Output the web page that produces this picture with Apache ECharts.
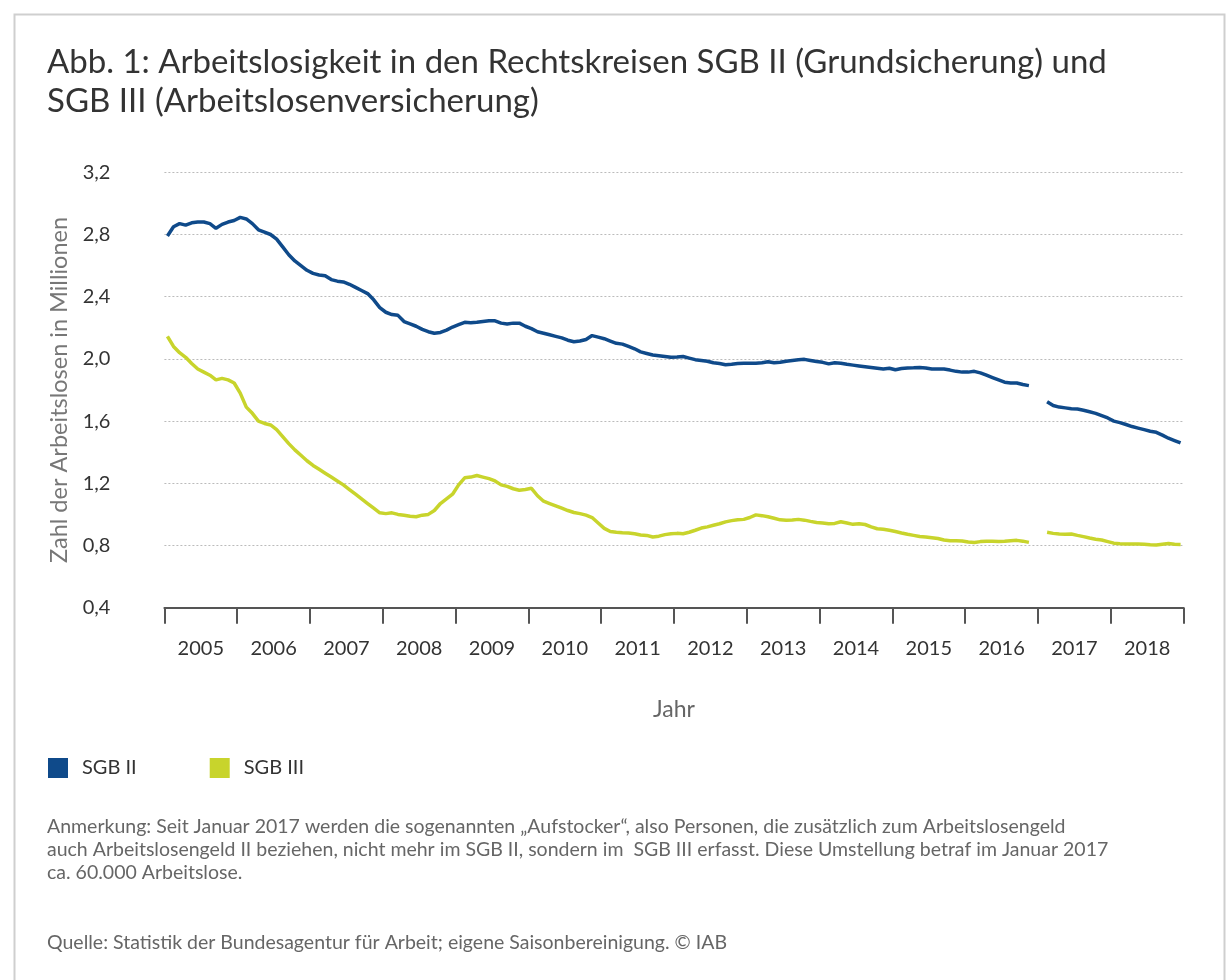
<!DOCTYPE html>
<html>
<head>
<meta charset="utf-8">
<script src="https://cdn.jsdelivr.net/npm/echarts@6/dist/echarts.min.js"></script>
<style>
html,body{margin:0;padding:0;background:#fff;}
#chart{width:1229px;height:980px;}
</style>
</head>
<body>
<div id="chart"></div>
<script>
// Monthly values, Jan 2005 .. Dec 2018 (in millions); null = break (Dec 2016 / Jan 2017)
const years = ['2005','2006','2007','2008','2009','2010','2011','2012','2013','2014','2015','2016','2017','2018'];
const yTicks = [0.4, 3.2, 0.4]; // min, max, interval
const sgb2 = [
 2.79,2.85,2.87,2.86,2.875,2.88,2.88,2.87,2.84,2.865,2.88,2.89,
 2.91,2.90,2.87,2.83,2.815,2.80,2.77,2.72,2.67,2.63,2.60,2.57,
 2.55,2.54,2.535,2.51,2.50,2.495,2.48,2.46,2.44,2.42,2.38,2.33,
 2.30,2.285,2.28,2.24,2.225,2.21,2.19,2.175,2.165,2.17,2.185,2.205,
 2.22,2.235,2.232,2.235,2.24,2.245,2.245,2.23,2.225,2.23,2.23,2.21,
 2.195,2.175,2.165,2.155,2.145,2.135,2.12,2.11,2.115,2.125,2.15,2.14,
 2.13,2.115,2.10,2.095,2.08,2.065,2.045,2.035,2.025,2.02,2.015,2.01,
 2.012,2.015,2.005,1.995,1.99,1.985,1.975,1.97,1.962,1.965,1.97,1.972,
 1.972,1.972,1.975,1.982,1.975,1.978,1.985,1.99,1.995,1.997,1.99,1.983,
 1.978,1.968,1.975,1.972,1.965,1.96,1.955,1.95,1.945,1.94,1.935,1.94,
 1.93,1.938,1.942,1.943,1.945,1.942,1.935,1.935,1.935,1.928,1.92,1.915,
 1.915,1.92,1.91,1.895,1.88,1.865,1.85,1.845,1.845,1.835,1.828,null,
 null,1.725,1.70,1.69,1.685,1.68,1.678,1.67,1.66,1.65,1.635,1.62,
 1.60,1.59,1.578,1.565,1.555,1.545,1.535,1.528,1.51,1.49,1.475,1.46
];
const sgb3 = [
 2.145,2.08,2.04,2.01,1.97,1.935,1.915,1.895,1.865,1.875,1.865,1.845,
 1.78,1.69,1.65,1.60,1.585,1.575,1.545,1.50,1.455,1.415,1.38,1.345,
 1.315,1.29,1.265,1.24,1.215,1.19,1.16,1.13,1.10,1.07,1.04,1.01,
 1.005,1.01,1.0,0.995,0.988,0.985,0.995,1.0,1.025,1.07,1.10,1.13,
 1.19,1.235,1.24,1.25,1.24,1.23,1.215,1.19,1.18,1.165,1.155,1.16,
 1.168,1.12,1.085,1.07,1.055,1.04,1.025,1.012,1.005,0.995,0.98,0.945,
 0.91,0.89,0.885,0.882,0.88,0.875,0.868,0.865,0.855,0.86,0.87,0.875,
 0.878,0.876,0.885,0.898,0.912,0.92,0.93,0.94,0.952,0.96,0.966,0.968,
 0.98,0.997,0.992,0.985,0.975,0.965,0.963,0.964,0.968,0.963,0.955,0.948,
 0.945,0.94,0.942,0.953,0.945,0.936,0.94,0.935,0.92,0.908,0.905,0.898,
 0.89,0.88,0.872,0.865,0.858,0.855,0.85,0.845,0.835,0.831,0.83,0.829,
 0.822,0.82,0.825,0.828,0.827,0.826,0.827,0.83,0.833,0.828,0.82,null,
 null,0.885,0.878,0.874,0.873,0.874,0.865,0.857,0.848,0.84,0.835,0.825,
 0.815,0.812,0.81,0.81,0.81,0.808,0.805,0.803,0.808,0.813,0.808,0.807
];
const seriesNames = ['SGB II', 'SGB III'];
const colors = ['#0f4a8a', '#c8d42c'];
const FONT = 'Lato';

function toPoints(arr){ return arr.map((v,i)=>[i+0.5, v]); }

const chart = echarts.init(document.getElementById('chart'), null, {renderer:'canvas'});
chart.setOption({
  animation:false,
  backgroundColor:'#fff',
  textStyle:{fontFamily:FONT},
  title:[
    {text:'Abb. 1: Arbeitslosigkeit in den Rechtskreisen SGB II (Grundsicherung) und\nSGB III (Arbeitslosenversicherung)',
     left:42, top:38,
     textStyle:{fontFamily:FONT, fontSize:33, fontWeight:'normal', color:'#333', lineHeight:39}},
    {text:'Anmerkung: Seit Januar 2017 werden die sogenannten \u201eAufstocker\u201c, also Personen, die zusätzlich zum Arbeitslosengeld\nauch Arbeitslosengeld II beziehen, nicht mehr im SGB II, sondern im  SGB III erfasst. Diese Umstellung betraf im Januar 2017\nca. 60.000 Arbeitslose.',
     left:42, top:810,
     textStyle:{fontFamily:FONT, fontSize:19.5, fontWeight:'normal', color:'#666', lineHeight:23}},
    {text:'Quelle: Statistik der Bundesagentur für Arbeit; eigene Saisonbereinigung. © IAB',
     left:42, top:926,
     textStyle:{fontFamily:FONT, fontSize:19.5, fontWeight:'normal', color:'#666', lineHeight:23}}
  ],
  graphic:[
    {type:'rect', left:12, top:12, shape:{x:0,y:0,width:1210,height:990},
     style:{fill:'none', stroke:'#cfcfcf', lineWidth:2}, silent:true}
  ],
  legend:{
    left:43, top:753, itemWidth:20, itemHeight:20, itemGap:73, icon:'rect',
    textStyle:{fontFamily:FONT, fontSize:20, color:'#333', padding:[0,0,0,9]},
    data:seriesNames
  },
  grid:{left:164.4, right:45.4, top:172.3, bottom:372.3, containLabel:false},
  xAxis:[
    {type:'value', min:0, max:168, interval:12,
     axisLine:{show:true, lineStyle:{color:'#555', width:2}},
     axisTick:{show:true, length:16, lineStyle:{color:'#555', width:2}},
     axisLabel:{show:false}, splitLine:{show:false},
     name:'Jahr', nameLocation:'middle', nameGap:90,
     nameTextStyle:{fontFamily:FONT, fontSize:23, color:'#666'}},
    {type:'category', data:years, boundaryGap:true, position:'bottom',
     axisLine:{show:false}, axisTick:{show:false}, splitLine:{show:false},
     axisLabel:{show:true, margin:31, fontFamily:FONT, fontSize:20, color:'#333'}}
  ],
  yAxis:{
    type:'value', min:yTicks[0], max:yTicks[1], interval:yTicks[2],
    axisLine:{show:false}, axisTick:{show:false},
    axisLabel:{margin:54, fontFamily:FONT, fontSize:20, color:'#333',
      formatter:v=>v.toFixed(1).replace('.',',')},
    splitLine:{show:true, lineStyle:{color:'#bbbbbb', type:[2,2], width:1}},
    name:'Zahl der Arbeitslosen in Millionen', nameLocation:'middle', nameGap:92,
    nameTextStyle:{fontFamily:FONT, fontSize:23.5, color:'#777'}
  },
  series:[
    {name:seriesNames[0], type:'line', xAxisIndex:0, data:toPoints(sgb2), showSymbol:false,
     connectNulls:false, lineStyle:{color:colors[0], width:3.5}, itemStyle:{color:colors[0]}, z:3},
    {name:seriesNames[1], type:'line', xAxisIndex:0, data:toPoints(sgb3), showSymbol:false,
     connectNulls:false, lineStyle:{color:colors[1], width:3.5}, itemStyle:{color:colors[1]}, z:2}
  ]
});
</script>
</body>
</html>
